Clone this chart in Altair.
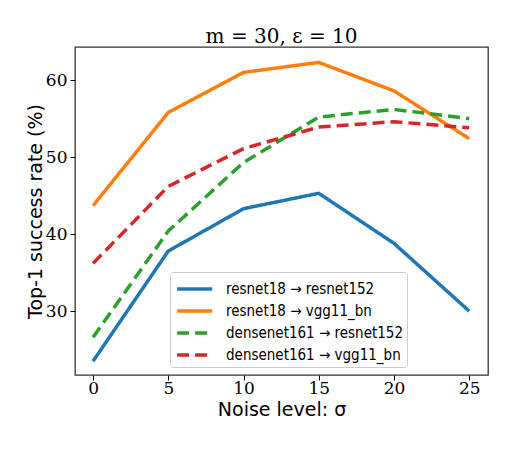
import altair as alt
import pandas as pd

sigma = [0, 5, 10, 15, 20, 25]
series_names = [
    "resnet18 → resnet152",
    "resnet18 → vgg11_bn",
    "densenet161 → resnet152",
    "densenet161 → vgg11_bn",
]
resnet18_resnet152 = [23.5, 37.8, 43.3, 45.3, 38.8, 30.0]
resnet18_vgg11 = [43.7, 55.8, 61.0, 62.3, 58.6, 52.4]
densenet161_resnet152 = [26.6, 40.4, 49.3, 55.2, 56.2, 55.0]
densenet161_vgg11 = [36.2, 46.2, 51.1, 53.9, 54.6, 53.8]
all_values = [resnet18_resnet152, resnet18_vgg11, densenet161_resnet152, densenet161_vgg11]

colors = ["#1f77b4", "#ff7f0e", "#2ca02c", "#d62728"]
dashes = [[1, 0], [1, 0], [12, 6], [12, 6]]

rows = []
for name, vals in zip(series_names, all_values):
    for s, v in zip(sigma, vals):
        rows.append({"sigma": s, "rate": v, "series": name})
df = pd.DataFrame(rows)

legend = alt.Legend(
    title=None,
    orient="none",
    legendX=95,
    legendY=225,
    symbolType="M-0.9,0H2.3",
    symbolSize=484,
    symbolStrokeWidth=3.5,
    labelFont="DejaVu Sans Condensed, Liberation Sans",
    labelFontSize=15,
    labelColor="black",
    labelOffset=26,
    rowPadding=1,
    padding=4,
    strokeColor="#cccccc",
    fillColor="white",
    cornerRadius=3,
    labelLimit=300,
)

chart = alt.Chart(df).mark_line(strokeWidth=3.5).encode(
    x=alt.X("sigma:Q",
            scale=alt.Scale(domain=[-1.2, 26.25], nice=False, zero=False),
            axis=alt.Axis(values=sigma, title="Noise level: σ", format="d")),
    y=alt.Y("rate:Q",
            scale=alt.Scale(domain=[21.7, 64.3], nice=False, zero=False),
            axis=alt.Axis(values=[30, 40, 50, 60], title="Top-1 success rate (%)")),
    color=alt.Color("series:N", scale=alt.Scale(domain=series_names, range=colors),
                    legend=legend, sort=series_names),
    strokeDash=alt.StrokeDash("series:N", scale=alt.Scale(domain=series_names, range=dashes),
                              legend=legend, sort=series_names),
).properties(
    width=413,
    height=328,
    title=alt.TitleParams("m = 30, ε = 10", font="DejaVu Serif", fontSize=20,
                          fontWeight="normal", color="black", offset=0),
    autosize=alt.AutoSizeParams(type="none"),
    padding={"left": 67, "top": 39, "right": 20, "bottom": 60},
).configure_view(
    stroke="#333333", strokeWidth=1.3
).configure_axis(
    domain=False, grid=False, ticks=True, tickColor="black", tickSize=5,
    labelFont="DejaVu Serif", labelFontSize=17, labelColor="black",
    titleFont="DejaVu Sans", titleFontSize=19, titleFontWeight="normal", titleColor="black",
).configure_axisY(titlePadding=0, labelPadding=3).configure_axisX(titlePadding=4, labelPadding=0)

chart.save("out.html", embed_options={"renderer": "svg", "actions": False})
